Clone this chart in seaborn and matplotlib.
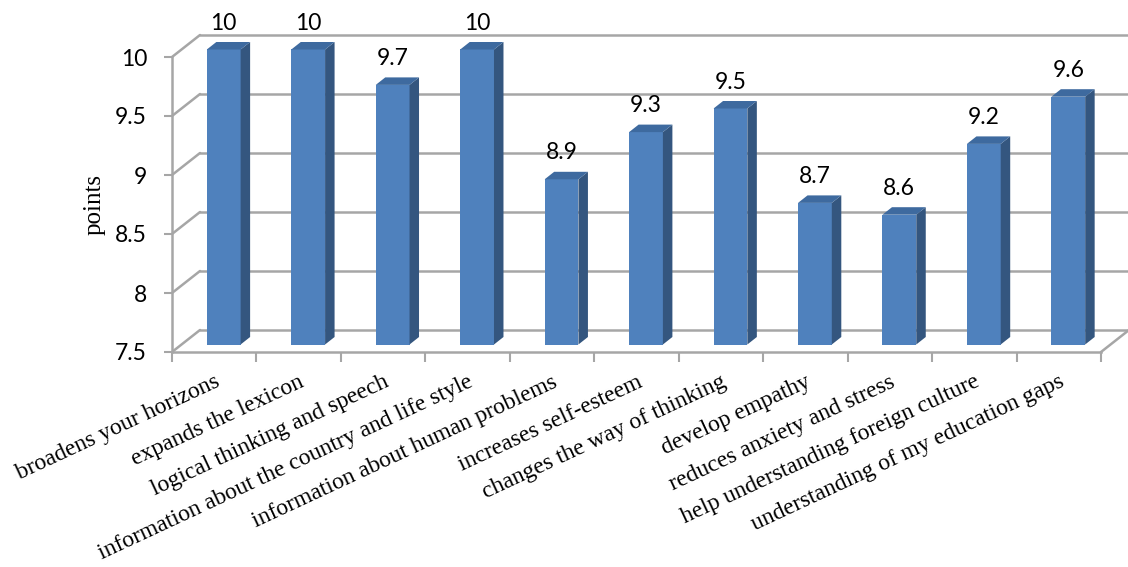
import numpy as np
import pandas as pd
import seaborn as sns
from matplotlib import pyplot as plt
from matplotlib.patches import Polygon
from matplotlib.transforms import offset_copy

# chart data
categories = ['broadens your horizons', 'expands the lexicon', 'logical thinking and speech',
              'information about the country and life style', 'information about human problems',
              'increases self-esteem', 'changes the way of thinking', 'develop empathy',
              'reduces anxiety and stress', 'help understanding foreign culture',
              'understanding of my education gaps']
scores = [10, 10, 9.7, 10, 8.9, 9.3, 9.5, 8.7, 8.6, 9.2, 9.6]
y_ticks = [7.5, 8, 8.5, 9, 9.5, 10]

sns.set_theme(style='white')
plt.rcParams['font.family'] = ['Lato', 'DejaVu Sans']
plt.rcParams['text.color'] = 'black'

gray = '#a6a6a6'
front_c, side_c, top_c = '#4f81bd', '#34567f', '#3e6a9f'

W, H = 1128, 567
fig = plt.figure(figsize=(W / 100, H / 100), dpi=100)
# front plane of the 3d box
ax = fig.add_axes([172 / W, 215 / H, 929 / W, 295 / H])

df = pd.DataFrame({'reason': categories, 'points': scores})
sns.barplot(data=df, x='reason', y='points', color=front_c, saturation=1,
            width=0.4, linewidth=0, ax=ax)
ax.set_xlim(-0.5, 10.5)
ax.set_ylim(y_ticks[0], y_ticks[-1])

# pixel scales of data units
ppx = 929 / 11
ppy = 295 / (y_ticks[-1] - y_ticks[0])
DX, DY = 28 / ppx, 22 / ppy          # full depth of the box
bdx, bdy = 9.5 / ppx, 7.5 / ppy      # depth of a bar
bar_trans = offset_copy(ax.transData, fig=fig, x=9.5, y=7.5, units='dots')

base = y_ticks[0]
for p, v in zip(ax.patches, scores):
    x0, w = p.get_x(), p.get_width()
    p.set_y(base)
    p.set_height(v - base)
    p.set_transform(bar_trans)
    p.set_clip_on(False)
    p.set_zorder(3)
    side = Polygon([(x0 + w, base), (x0 + w + bdx, base + bdy), (x0 + w + bdx, v + bdy), (x0 + w, v)],
                   closed=True, facecolor=side_c, lw=0, transform=bar_trans, clip_on=False, zorder=3)
    top = Polygon([(x0, v), (x0 + w, v), (x0 + w + bdx, v + bdy), (x0 + bdx, v + bdy)],
                  closed=True, facecolor=top_c, lw=0, transform=bar_trans, clip_on=False, zorder=3)
    ax.add_patch(side)
    ax.add_patch(top)
    ax.annotate(f'{v:g}', xy=(x0 + w / 2, v), xycoords=bar_trans, xytext=(0, 19),
                textcoords='offset points', ha='center', va='center', fontsize=16.5)

# back wall, left wall and floor
x_lo, x_hi = ax.get_xlim()
for v in y_ticks:
    ax.plot([x_lo + DX, x_hi + DX], [v + DY, v + DY], color=gray, lw=1.8, clip_on=False, zorder=0.5)
    ax.plot([x_lo, x_lo + DX], [v, v + DY], color=gray, lw=1.8, clip_on=False, zorder=0.5)
ax.plot([x_hi, x_hi + DX], [base, base + DY], color=gray, lw=1.8, clip_on=False, zorder=0.5)

for s in ['top', 'right']:
    ax.spines[s].set_visible(False)
for s in ['left', 'bottom']:
    ax.spines[s].set_color(gray)
    ax.spines[s].set_linewidth(1.8)

ax.set_yticks(y_ticks)
ax.set_yticklabels([f'{t:g}' for t in y_ticks])
ax.tick_params(axis='y', left=True, length=6, width=1.5, color=gray, pad=12,
               labelsize=16.5, labelcolor='black')

ax.set_xticks(np.arange(x_lo, x_hi + 0.5, 1), minor=True)
ax.tick_params(axis='x', which='minor', bottom=True, length=7, width=1.5, color=gray)
ax.tick_params(axis='x', which='major', bottom=False, length=0, pad=14)
ax.set_xticks(range(len(categories)))
ax.set_xticklabels(categories, rotation=25, ha='right', rotation_mode='anchor',
                   fontfamily='Liberation Serif', fontsize=17, color='black')

ax.set_xlabel('')
ax.set_ylabel('points', fontfamily='Liberation Serif', fontsize=18, color='black')
ax.yaxis.set_label_coords(-0.072, 0.5)

fig.savefig('out.png', dpi=100)
plt.close()
